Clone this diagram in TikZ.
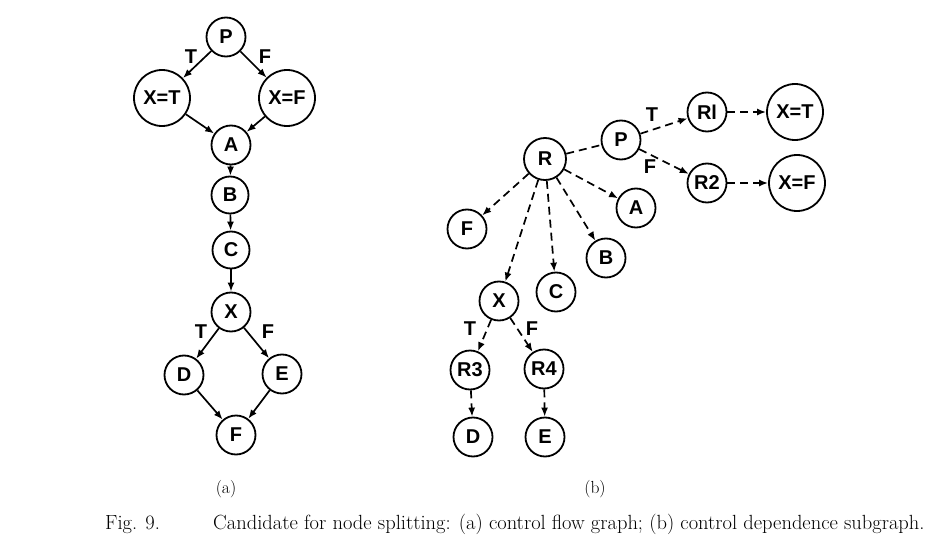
\documentclass[tikz,border=0pt]{standalone}
\usepackage{fontspec}
\newfontfamily\nodefont{Liberation Sans}
\usetikzlibrary{arrows.meta}
\begin{document}
\begin{tikzpicture}[x=1pt,y=-1pt,
  vtx/.style={circle,draw,line width=1.8pt,minimum size=39pt,inner sep=0pt,font=\nodefont\bfseries\fontsize{20}{20}\selectfont},
  bigvtx/.style={vtx,minimum size=56pt},
  rvtx/.style={vtx,minimum size=42pt},
  lbl/.style={font=\nodefont\bfseries\fontsize{20}{20}\selectfont,inner sep=0pt},
  cf/.style={line width=1.7pt,-{Latex[length=9pt,width=7pt]}},
  cd/.style={line width=1.7pt,dash pattern=on 8pt off 5pt,-{Latex[length=9pt,width=7pt]}},
  cdn/.style={line width=1.7pt,dash pattern=on 8pt off 5pt},
  captxt/.style={font=\fontsize{17.5}{20}\selectfont,inner sep=0pt},
  figtxt/.style={font=\fontsize{20.5}{22}\selectfont,inner sep=0pt}
]
\useasboundingbox (0,0) rectangle (936,548);
% (a) control flow graph
\node[vtx] (aP) at (226,37) {P};
\node[bigvtx] (aXT) at (162,98) {X=T};
\node[bigvtx] (aXF) at (287,98) {X=F};
\node[vtx] (aA) at (231,145) {A};
\node[vtx,minimum size=37pt] (aB) at (230,195) {B};
\node[vtx,minimum size=37pt] (aC) at (231,250) {C};
\node[vtx] (aX) at (231,312) {X};
\node[vtx] (aD) at (184,375) {D};
\node[vtx] (aE) at (282,374) {E};
\node[vtx] (aF) at (236,435) {F};
\draw[cf] (aP) -- (aXT);
\draw[cf] (aP) -- (aXF);
\draw[cf] (aXT) -- (aA);
\draw[cf] (aXF) -- (aA);
\draw[cf] (aA) -- (aB);
\draw[cf] (aB) -- (aC);
\draw[cf] (aC) -- (aX);
\draw[cf] (aX) -- (aD);
\draw[cf] (aX) -- (aE);
\draw[cf] (aD) -- (aF);
\draw[cf] (aE) -- (aF);
\node[lbl] (laT) at (191,57) {T};
\node[lbl] (laF) at (265,57) {F};
\node[lbl] (laT2) at (201,332) {T};
\node[lbl] (laF2) at (268,332) {F};
% (b) control dependence subgraph
\node[rvtx] (bR) at (545,159) {R};
\node[vtx] (bP) at (621,140) {P};
\node[vtx] (bR1) at (707,112) {Rl};
\node[bigvtx] (bXT) at (795,112) {X=T};
\node[vtx] (bR2) at (707,183) {R2};
\node[bigvtx] (bXF) at (797,183) {X=F};
\node[vtx] (bA) at (636,208) {A};
\node[vtx] (bB) at (606,258) {B};
\node[vtx] (bC) at (556,292) {C};
\node[vtx] (bF) at (467,229) {F};
\node[vtx] (bX) at (499,301) {X};
\node[vtx] (bR3) at (470,370) {R3};
\node[vtx] (bR4) at (544,369) {R4};
\node[vtx] (bD) at (473,437) {D};
\node[vtx] (bE) at (545,437) {E};
\draw[cdn] (bR) -- (bP);
\draw[cd] (bR) -- (bA);
\draw[cd] (bR) -- (bB);
\draw[cd] (bR) -- (bC);
\draw[cd] (bR) -- (bX);
\draw[cd] (bR) -- (bF);
\draw[cd] (bP) -- (bR1);
\draw[cd] (bP) -- (bR2);
\draw[cd] (bR1) -- (bXT);
\draw[cd] (bR2) -- (bXF);
\draw[cd] (bX) -- (bR3);
\draw[cd] (bX) -- (bR4);
\draw[cd] (bR3) -- (bD);
\draw[cd] (bR4) -- (bE);
\node[lbl] (lbT) at (652,115) {T};
\node[lbl] (lbF) at (650,167) {F};
\node[lbl] (lbT2) at (470,329) {T};
\node[lbl] (lbF2) at (532,329) {F};
% captions
\node[captxt] (capa) at (226,489) {(a)};
\node[captxt] (capb) at (595,489) {(b)};
\node[figtxt,anchor=base west] (fig) at (105,529) {Fig. 9.};
\node[figtxt,anchor=base west] (captext) at (213,529) {Candidate for node splitting: (a) control flow graph; (b) control dependence subgraph.};
\end{tikzpicture}
\end{document}
